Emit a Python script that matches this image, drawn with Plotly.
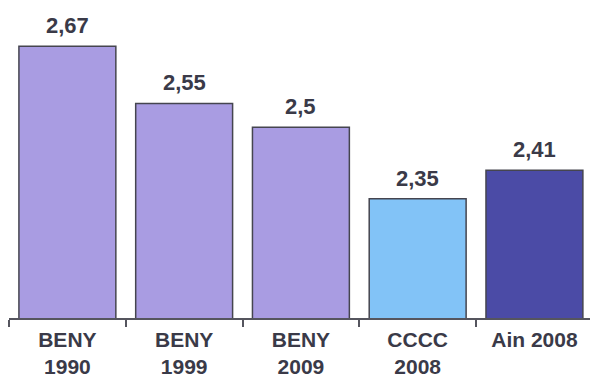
import plotly.graph_objects as go

categories = ["BENY<br>1990", "BENY<br>1999", "BENY<br>2009", "CCCC<br>2008", "Ain 2008"]
values = [2.67, 2.55, 2.5, 2.35, 2.41]
colors = ["#A99CE2", "#A99CE2", "#A99CE2", "#82C3F7", "#4B4BA6"]
labels = [f"{v:g}".replace(".", ",") for v in values]

FONT = "Liberation Sans, Arial, sans-serif"
TXT = "#3a3a48"

fig = go.Figure(go.Bar(
    x=categories, y=values,
    marker=dict(color=colors, line=dict(color="#45454f", width=1.5)),
    width=0.83,
))

for c, v, t in zip(categories, values, labels):
    fig.add_annotation(x=c, y=v, text=f"<b>{t}</b>", showarrow=False,
                       yanchor="bottom", yshift=6,
                       font=dict(family=FONT, size=22, color=TXT))

fig.update_layout(
    width=590, height=379,
    margin=dict(l=9, r=0, t=8, b=61),
    paper_bgcolor="white", plot_bgcolor="white",
    showlegend=False,
    font=dict(family=FONT),
)
fig.update_xaxes(
    range=[-0.5, 4.476], automargin=False,
    showline=True, linecolor="#55555e", linewidth=1.5,
    ticks="outside", ticklen=7, tickcolor="#55555e", tickwidth=1.5,
    tickson="boundaries",
    tickfont=dict(family=FONT, size=21, color=TXT),
    ticklabelstandoff=2,
    tickprefix="<b>", ticksuffix="</b>",
)
fig.update_yaxes(range=[2.1, 2.75], visible=False, showgrid=False, automargin=False)

fig.write_html("out.html")
